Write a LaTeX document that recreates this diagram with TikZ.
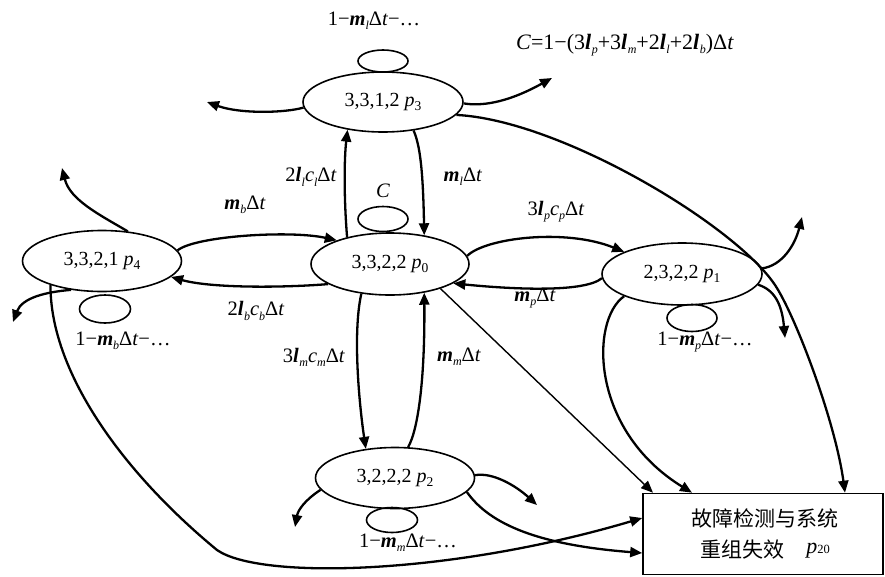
\documentclass[tikz,border=0pt]{standalone}
\usepackage{fontspec}
\setmainfont{Liberation Serif}
\newfontfamily\cjk{Noto Sans CJK SC}
\usetikzlibrary{shapes.geometric,arrows.meta,calc}
\newcommand\lsub[1]{\raisebox{-0.45ex}{\fontsize{12}{12}\selectfont\itshape #1}}
\newcommand\dsub[1]{\raisebox{-0.45ex}{\fontsize{13.5}{13.5}\selectfont #1}}
\newcommand\mmu{\textbf{\textit{m}}}
\newcommand\lamb{\textbf{\textit{l}}\kern0.5pt}
\newcommand\Dt{Δ\textit{t}}
\begin{document}
\begin{tikzpicture}[x=1pt,y=-1pt,
  state/.style={ellipse,draw,line width=1.6pt,inner sep=0pt,minimum width=159pt,minimum height=61pt,font=\fontsize{20}{22}\selectfont},
  loopn/.style={ellipse,draw,line width=1.6pt,inner sep=0pt,minimum width=50pt,minimum height=26pt},
  lab/.style={inner sep=0pt,font=\fontsize{20.5}{22}\selectfont},
  tr/.style={line width=2.3pt,-{Triangle[length=12pt,width=10pt]}},
  thin/.style={line width=1.4pt,-{Triangle[length=12pt,width=10pt]}}]
\useasboundingbox (0,0) rectangle (885,576);
% states
\node[state,minimum width=160pt,minimum height=60pt] (p3) at (383,102) {3,3,1,2 \textit{p}\dsub{3}};
\node[state,minimum width=158pt,minimum height=62pt] (p0) at (390,264) {3,3,2,2 \textit{p}\dsub{0}};
\node[state] (p4) at (102,261) {3,3,2,1 \textit{p}\dsub{4}};
\node[state,minimum width=160pt,minimum height=62pt] (p1) at (682,274) {2,3,2,2 \textit{p}\dsub{1}};
\node[state] (p2) at (395,478) {3,2,2,2 \textit{p}\dsub{2}};
% self loops
\node[loopn,minimum height=22pt] (l3) at (383,61) {};
\node[loopn,minimum height=25pt] (l0) at (383,219) {};
\node[loopn,minimum width=51pt,minimum height=28pt] (l4) at (105,309) {};
\node[loopn,minimum height=27pt] (l1) at (692,318) {};
\node[loopn,minimum width=51pt,minimum height=25pt] (l2) at (392,520) {};
% box
\node[draw,line width=1.6pt,minimum width=240pt,minimum height=81pt,inner sep=0pt] (box) at (763,534) {};
\node[inner sep=0pt,font=\cjk\fontsize{21}{23}\selectfont] (bt1) at (765,518) {故障检测与系统};
\node[inner sep=0pt,font=\cjk\fontsize{21}{23}\selectfont] (bt2) at (742,550) {重组失效};
\node[inner sep=0pt,font=\fontsize{22}{24}\selectfont] (bt3) at (818,551) {\textit{p}{\fontsize{12.5}{12.5}\selectfont 20}};
% labels
\node[lab] (t3) at (374,21) {1−\mmu\lsub{l}\Dt−…};
\node[lab,font=\fontsize{22}{24}\selectfont] (tc) at (625,45) {\textit{C}=1−(3\lamb\lsub{p}+3\lamb\lsub{m}+2\lamb\lsub{l}+2\lamb\lsub{b})\Dt};
\node[lab] (a03) at (311,177) {2\lamb\lsub{l}\textit{c}\lsub{l}\Dt};
\node[lab] (a30) at (463,177) {\mmu\lsub{l}\Dt};
\node[lab] (t0) at (383,191) {\textit{C}};
\node[lab] (a40) at (245,205) {\mmu\lsub{b}\Dt};
\node[lab] (a04) at (256,311) {2\lamb\lsub{b}\textit{c}\lsub{b}\Dt};
\node[lab] (a01) at (556,212) {3\lamb\lsub{p}\textit{c}\lsub{p}\Dt};
\node[lab] (a10) at (535,298) {\mmu\lsub{p}\Dt};
\node[lab] (t1) at (705,342) {1−\mmu\lsub{p}\Dt−…};
\node[lab] (t4) at (123,341) {1−\mmu\lsub{b}\Dt−…};
\node[lab] (a02) at (314,357) {3\lamb\lsub{m}\textit{c}\lsub{m}\Dt};
\node[lab] (a20) at (459,357) {\mmu\lsub{m}\Dt};
\node[lab] (t2) at (408,543) {1−\mmu\lsub{m}\Dt−…};
% free ends
\coordinate (f3a) at (207,102);
\coordinate (f3b) at (552,78);
\coordinate (f4a) at (62,168);
\coordinate (f4b) at (13,322);
\coordinate (f1a) at (802,217);
\coordinate (f1b) at (785,338);
\coordinate (f2a) at (295,527);
\coordinate (f2b) at (537,505);
% transitions
\draw[tr] (p3.-43) .. controls (420,145) and (423,170) .. (p0.40);
\draw[tr] (p0.148) .. controls (344,200) and (344,160) .. (p3.-142);
\draw[tr] (p4.8) .. controls (195,236) and (290,230) .. (p0.156);
\draw[tr] (p0.-162) .. controls (280,288) and (210,288) .. (p4.-13);
\draw[tr] (p0.6) .. controls (485,238) and (565,228) .. (p1.159);
\draw[tr] (p1.-177) .. controls (585,292) and (520,290) .. (p0.-17);
\draw[tr] (p0.-134) .. controls (352,335) and (360,410) .. (p2.135);
\draw[tr] (p2.67) .. controls (418,430) and (425,380) .. (p0.-40);
% to failure box
\draw[thin] (p0.-26) -- ([xshift=-110pt]box.north);
\draw[tr] (p1.-159) .. controls (590,320) and (590,430) .. ([xshift=-71pt]box.north);
\draw[tr] (p3.-10) .. controls (560,120) and (735,225) .. (775,285) .. controls (795,315) and (835,420) .. ([xshift=82pt]box.north);
\draw[tr] (p4.-155) .. controls (50,370) and (120,470) .. (217,550) .. controls (260,580) and (450,575) .. ([yshift=16pt]box.west);
\draw[tr] (p2.-11) .. controls (490,525) and (540,545) .. ([yshift=-19pt]box.west);
% outgoing
\draw[tr] (p3.184) .. controls (285,113) and (240,114) .. (f3a);
\draw[tr] (p3.-1) .. controls (480,106) and (505,104) .. (f3b);
\draw[tr] (p4.49) .. controls (100,215) and (70,200) .. (f4a);
\draw[tr] (p4.-137) .. controls (45,292) and (22,298) .. (f4b);
\draw[tr] (p1.4) .. controls (782,266) and (795,245) .. (f1a);
\draw[tr] (p1.-8) .. controls (775,290) and (782,305) .. (f1b);
\draw[tr] (p2.-171) .. controls (305,500) and (298,510) .. (f2a);
\draw[tr] (p2.2) .. controls (492,472) and (515,485) .. (f2b);
\end{tikzpicture}
\end{document}
